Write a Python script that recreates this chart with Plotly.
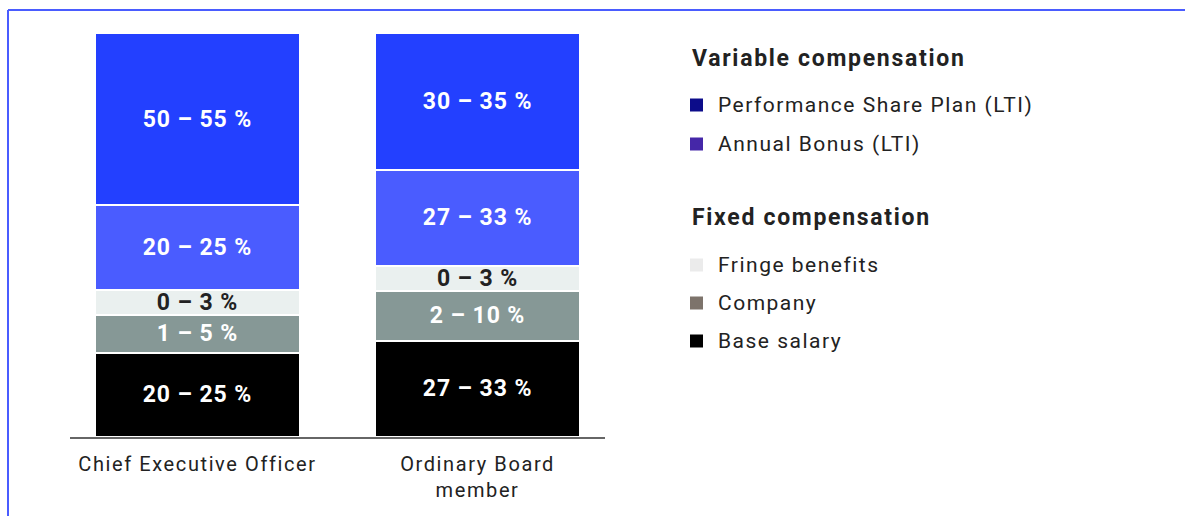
import plotly.graph_objects as go

# categories / tick labels
categories = ["Chief Executive Officer", "Ordinary Board member"]
tick_labels = ["Chief Executive Officer", "Ordinary Board<br>member"]

# segment heights (share of bar, bottom to top)
base_salary = [20.8, 23.8]
company = [9.4, 12.4]
fringe = [6.2, 6.2]
annual_bonus = [21.1, 23.8]
psp = [42.4, 33.7]

# range labels shown inside the segments
base_lbl = ["20 – 25 %", "27 – 33 %"]
company_lbl = ["1 – 5 %", "2 – 10 %"]
fringe_lbl = ["0 – 3 %", "0 – 3 %"]
annual_lbl = ["20 – 25 %", "27 – 33 %"]
psp_lbl = ["50 – 55 %", "30 – 35 %"]

# legend entries (group title, item names)
var_title = "Variable compensation"
var_items = ["Performance Share Plan (LTI)", "Annual Bonus (LTI)"]
fix_title = "Fixed compensation"
fix_items = ["Fringe benefits", "Company", "Base salary"]

FONT = "Roboto"
W, H = 1185, 516
L, R, T, B = 70, 605, 33, 437  # plot area in pixels


def px(x):
    return (x - L) / (R - L)


def py(y):
    return (B - y) / (B - T)


def sp(s, ls=1):
    return f'<span style="letter-spacing:{ls}px">{s}</span>'


fig = go.Figure()

segs = [
    ("Base salary", base_salary, base_lbl, "#000000", "white"),
    ("Company", company, company_lbl, "#869896", "white"),
    ("Fringe benefits", fringe, fringe_lbl, "#eaf0ef", "#222222"),
    ("Annual Bonus (LTI)", annual_bonus, annual_lbl, "#4a5cff", "white"),
    ("Performance Share Plan (LTI)", psp, psp_lbl, "#2340ff", "white"),
]

for name, vals, lbls, col, tcol in segs:
    fig.add_trace(go.Bar(
        x=categories, y=vals, name=name,
        text=[sp(t, 0.9) for t in lbls],
        textposition="inside", insidetextanchor="middle",
        textfont=dict(family=FONT, size=23, color=tcol, weight="bold"),
        marker=dict(color=col, line=dict(color="white", width=2)),
        width=0.732, showlegend=False, hoverinfo="skip",
    ))

shapes = []
annotations = []

# blue frame (top and left)
frame = "#4a5cff"
shapes.append(dict(type="line", xref="paper", yref="paper",
                   x0=px(8), x1=px(W + 5), y0=py(10), y1=py(10),
                   line=dict(color=frame, width=2)))
shapes.append(dict(type="line", xref="paper", yref="paper",
                   x0=px(8), x1=px(8), y0=py(10), y1=py(H + 5),
                   line=dict(color=frame, width=2)))

# custom legend
legend_cols = {"Performance Share Plan (LTI)": "#0c0c8a",
               "Annual Bonus (LTI)": "#4527a8",
               "Fringe benefits": "#ebebeb",
               "Company": "#7d736b",
               "Base salary": "#000000"}


def add_title(text, y):
    annotations.append(dict(xref="paper", yref="paper", x=px(690), y=py(y),
                            xanchor="left", yanchor="middle", showarrow=False,
                            text=sp(text, 1.7),
                            font=dict(family=FONT, size=23, color="#222222", weight="bold")))


def add_item(text, y):
    shapes.append(dict(type="rect", xref="paper", yref="paper",
                       x0=px(690), x1=px(703), y0=py(y - 6.5), y1=py(y + 6.5),
                       fillcolor=legend_cols[text], line=dict(width=0)))
    annotations.append(dict(xref="paper", yref="paper", x=px(716), y=py(y),
                            xanchor="left", yanchor="middle", showarrow=False,
                            text=sp(text, 1.5),
                            font=dict(family=FONT, size=21, color="#222222")))


add_title(var_title, 59)
for name, y in zip(var_items, [105, 144]):
    add_item(name, y)
add_title(fix_title, 218)
for name, y in zip(fix_items, [265, 303, 341]):
    add_item(name, y)

fig.update_layout(
    barmode="stack",
    width=W, height=H,
    margin=dict(l=L, r=W - R, t=T, b=H - B),
    paper_bgcolor="white", plot_bgcolor="white",
    shapes=shapes, annotations=annotations,
    uniformtext=dict(minsize=23, mode="show"),
    xaxis=dict(range=[-0.455, 1.455], tickmode="array", tickvals=categories,
               ticktext=[sp(t, 1.6) for t in tick_labels],
               showline=True, linecolor="#666666", linewidth=2,
               ticks="outside", ticklen=8, tickcolor="rgba(0,0,0,0)",
               tickfont=dict(family=FONT, size=20, color="#222222"),
               showgrid=False, zeroline=False, fixedrange=True),
    yaxis=dict(range=[0, 100], visible=False, showgrid=False, fixedrange=True),
)

fig.write_html("out.html", config={"displayModeBar": False},
               post_script="document.body.style.margin='0';")
